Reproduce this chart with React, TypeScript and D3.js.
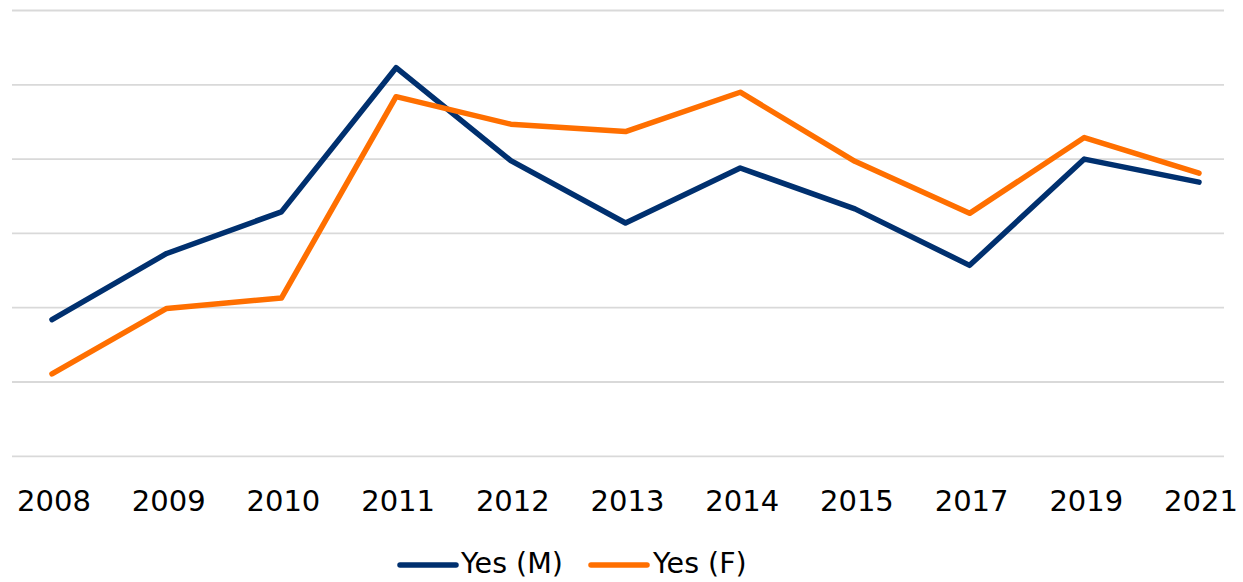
import React from "react";
import * as d3 from "d3";

const years = ["2008", "2009", "2010", "2011", "2012", "2013", "2014", "2015", "2017", "2019", "2021"];
const yesMale = [18.4, 27.3, 32.9, 52.3, 39.8, 31.4, 38.8, 33.3, 25.7, 40.0, 36.9];
const yesFemale = [11.1, 19.9, 21.3, 48.4, 44.7, 43.7, 49.0, 39.7, 32.7, 42.9, 38.1];
const gridTicks = [0, 10, 20, 30, 40, 50, 60];
const seriesNames = ["Yes (M)", "Yes (F)"];

const width = 1243;
const height = 582;
const colors = ["#00306F", "#FF6F00"];
const font = "'DejaVu Sans', sans-serif";

const App = () => {
  const x = d3.scalePoint<string>().domain(years).range([52, 1199]);
  const y = d3.scaleLinear().domain([0, 60]).range([456.3, 10.5]);

  const line = d3
    .line<number>()
    .x((_, i) => x(years[i]) as number)
    .y((d) => y(d));

  const series = [yesMale, yesFemale];

  // legend layout
  const legend = [
    { lineX: 400, textX: 461 },
    { lineX: 591, textX: 653 },
  ];

  return (
    <svg
      width={width}
      height={height}
      style={{ position: "absolute", left: 0, top: 0, background: "#fff" }}
    >
      {/* gridlines */}
      {gridTicks.map((t) => (
        <line
          key={t}
          x1={12}
          x2={1224}
          y1={y(t)}
          y2={y(t)}
          stroke="#d9d9d9"
          strokeWidth={1.8}
        />
      ))}

      {/* series lines */}
      {series.map((s, i) => (
        <path
          key={i}
          d={line(s) ?? ""}
          fill="none"
          stroke={colors[i]}
          strokeWidth={5.5}
          strokeLinecap="round"
          strokeLinejoin="round"
        />
      ))}

      {/* x labels */}
      {years.map((yr) => (
        <text
          key={yr}
          x={(x(yr) as number) + 2}
          y={510.5}
          textAnchor="middle"
          fontFamily={font}
          fontSize={29}
          fill="#000"
        >
          {yr}
        </text>
      ))}

      {/* legend */}
      {seriesNames.map((name, i) => (
        <g key={name}>
          <line
            x1={legend[i].lineX}
            x2={legend[i].lineX + 56}
            y1={565}
            y2={565}
            stroke={colors[i]}
            strokeWidth={5.5}
            strokeLinecap="round"
          />
          <text
            x={legend[i].textX}
            y={573}
            fontFamily={font}
            fontSize={28.5}
            fill="#000"
          >
            {name}
          </text>
        </g>
      ))}
    </svg>
  );
};

export default App;
